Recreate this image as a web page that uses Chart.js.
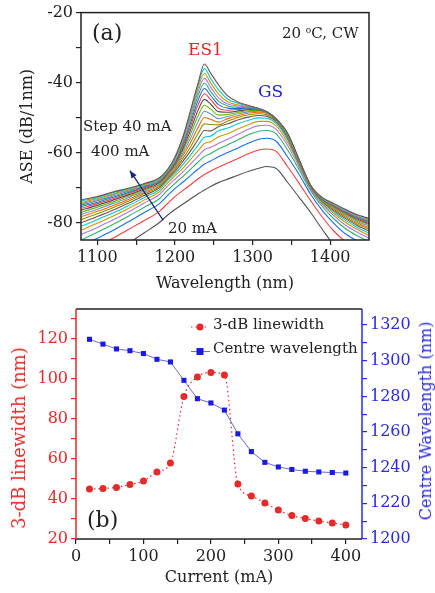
<!DOCTYPE html>
<html>
<head>
<meta charset="utf-8">
<script src="https://cdn.jsdelivr.net/npm/chart.js@4.4.0/dist/chart.umd.min.js"></script>
<style>
  html, body { margin: 0; padding: 0; background: #fff; }
  #wrap { position: relative; width: 435px; height: 593px; overflow: hidden; font-family: "DejaVu Serif", serif; color: #222; }
  canvas { position: absolute; left: 0; }
  #cA { top: 0; }
  #cB { top: 295px; }
  .note { position: absolute; white-space: nowrap; line-height: 1; }
  .note sup { font-size: 0.6em; vertical-align: 0.6em; }
  .vtitle { position: absolute; white-space: nowrap; line-height: 1; transform: translate(-50%, -50%) rotate(-90deg); }
</style>
</head>
<body>
<div id="wrap">
  <canvas id="cA" width="435" height="300"></canvas>
  <canvas id="cB" width="435" height="298"></canvas>

  <div class="note" style="left:92px;top:22px;font-size:22px">(a)</div>
  <div class="note" style="left:282px;top:26px;font-size:15px">20 <sup>o</sup>C, CW</div>
  <div class="note" style="left:188px;top:41px;font-size:17px;color:#e02828">ES1</div>
  <div class="note" style="left:258px;top:83px;font-size:17px;color:#2323d2">GS</div>
  <div class="note" style="left:83px;top:119px;font-size:15px">Step 40 mA</div>
  <div class="note" style="left:91px;top:144px;font-size:15px">400 mA</div>
  <div class="note" style="left:168px;top:221px;font-size:15px">20 mA</div>

  <div class="note" style="left:213px;top:317px;font-size:15px">3-dB linewidth</div>
  <div class="note" style="left:213px;top:341px;font-size:15px">Centre wavelength</div>
  <div class="note" style="left:87px;top:509px;font-size:22px">(b)</div>
  <div class="vtitle" style="left:19px;top:438px;font-size:18px;color:#e52a2a">3-dB linewidth (nm)</div>
  <div class="vtitle" style="left:426px;top:421px;font-size:16px;color:#2a2ae0">Centre Wavelength (nm)</div>
</div>

<script>
// ---- (a) ASE spectra, one row per drive current ----
const wavelengths = [1080, 1100, 1120, 1140, 1160, 1180, 1190, 1200, 1210, 1220, 1230, 1238, 1246, 1256,
                     1268, 1282, 1296, 1308, 1318, 1330, 1345, 1360, 1375, 1390, 1405, 1420, 1435, 1450];

const ase020 = [-93,-91,-89,-86,-83,-80,-78,-76.3,-74.8,-73.3,-71.8,-70.7,-69.7,-68.6,-67.6,-66.4,-65.3,-64.5,-64,-64.5,-68.5,-72.8,-77.2,-82,-86.5,-89.5,-91.5,-93];
const ase040 = [-89,-86.8,-84.5,-82,-79.5,-76.8,-74.7,-72.6,-70.9,-69.2,-67.5,-66.3,-65.3,-64.2,-63,-61.6,-60.2,-59.3,-59,-59.6,-64,-68.8,-73.8,-78.5,-82.5,-85.5,-87.5,-89];
const ase060 = [-86.7,-84.5,-82.3,-79.8,-77.2,-74.6,-72.4,-70.3,-68.5,-66.6,-64.7,-63.3,-62.4,-61.2,-60,-58.6,-57.2,-56.2,-55.9,-56.7,-61.2,-66.3,-72,-76.6,-80.3,-83.3,-85.3,-87];
const ase080 = [-84.9,-82.8,-80.6,-78.2,-75.7,-73.2,-70.9,-68.8,-66.9,-64.8,-62.7,-61.1,-60.3,-59,-57.8,-56.3,-54.8,-53.9,-53.7,-54.6,-59.2,-64.9,-71,-75.5,-79,-81.8,-83.8,-85.5];
const ase100 = [-83.4,-81.4,-79.3,-77,-74.5,-72,-69.7,-67.6,-65.6,-63.3,-61,-59.2,-58.5,-57.4,-56.2,-54.7,-53.2,-52.3,-52.2,-53.3,-57.9,-64.1,-70.6,-74.9,-78.1,-80.8,-82.8,-84.5];
const ase120 = [-82.1,-80.2,-78.2,-76,-73.6,-71.2,-68.8,-66.7,-64.5,-62,-59.4,-57.4,-56.9,-55.5,-54.6,-53.2,-51.9,-51.1,-51.1,-52.3,-57,-63.6,-70.3,-74.5,-77.5,-80,-82,-83.7];
const ase140 = [-81,-79.2,-77.3,-75.2,-72.9,-70.6,-68.1,-66,-63.5,-60.8,-57.8,-55.6,-55.3,-53.8,-53,-51.7,-50.7,-50.1,-50.2,-51.6,-56.3,-63.3,-70.1,-74.2,-77,-79.4,-81.4,-83];
const ase160 = [-80,-78.3,-76.5,-74.5,-72.3,-70.1,-67.6,-65.4,-62.6,-59.6,-56.2,-53.7,-53.8,-52.6,-51.8,-50.6,-49.8,-49.4,-49.6,-51.1,-55.8,-63.1,-70,-74,-76.6,-78.9,-80.9,-82.4];
const ase180 = [-79.1,-77.5,-75.8,-73.9,-71.8,-69.7,-67.2,-64.9,-61.8,-58.4,-54.5,-51.8,-52,-52.1,-51,-49.9,-49.2,-48.9,-49.1,-50.8,-55.5,-62.9,-69.9,-73.8,-76.3,-78.5,-80.5,-81.9];
const ase200 = [-78.3,-76.8,-75.2,-73.4,-71.4,-69.4,-66.9,-64.5,-61,-57.2,-52.8,-50,-50.5,-51.3,-50.3,-49.4,-48.7,-48.5,-48.8,-50.6,-55.3,-62.8,-69.8,-73.7,-76,-78.1,-80.1,-81.4];
const ase220 = [-77.6,-76.2,-74.6,-72.9,-71,-69.1,-66.6,-64.1,-60.3,-56,-51.1,-48.2,-49,-50.3,-49.7,-48.9,-48.3,-48.2,-48.6,-50.5,-55.1,-62.7,-69.8,-73.6,-75.8,-77.8,-79.7,-81];
const ase240 = [-77,-75.6,-74.1,-72.5,-70.7,-68.8,-66.4,-63.7,-59.6,-54.8,-49.4,-46.5,-47.6,-49.3,-49.1,-48.5,-48,-48,-48.5,-50.4,-55,-62.6,-69.7,-73.5,-75.6,-77.5,-79.4,-80.6];
const ase260 = [-76.4,-75.1,-73.6,-72.1,-70.4,-68.6,-66.2,-63.4,-59,-53.7,-47.8,-44.8,-46.2,-48.3,-48.5,-48.1,-47.7,-47.8,-48.4,-50.4,-54.9,-62.5,-69.7,-73.4,-75.4,-77.3,-79.1,-80.3];
const ase280 = [-75.9,-74.6,-73.2,-71.7,-70.1,-68.4,-66,-63.1,-58.4,-52.6,-46.3,-43.2,-44.9,-47.3,-47.9,-47.7,-47.5,-47.7,-48.3,-50.3,-54.8,-62.4,-69.6,-73.3,-75.3,-77.1,-78.8,-80];
const ase300 = [-75.4,-74.2,-72.8,-71.4,-69.8,-68.2,-65.8,-62.8,-57.8,-51.6,-44.9,-41.7,-43.7,-46.3,-47.3,-47.4,-47.3,-47.6,-48.3,-50.3,-54.7,-62.3,-69.6,-73.2,-75.1,-76.9,-78.6,-79.7];
const ase320 = [-75,-73.8,-72.4,-71.1,-69.6,-68,-65.6,-62.5,-57.3,-50.7,-43.6,-40.2,-42.5,-45.3,-46.7,-47.1,-47.1,-47.5,-48.3,-50.3,-54.6,-62.3,-69.5,-73.1,-75,-76.8,-78.4,-79.5];
const ase340 = [-74.6,-73.5,-72.1,-70.8,-69.4,-67.8,-65.4,-62.2,-56.8,-49.9,-42.4,-38.8,-41.3,-44.3,-46.1,-46.7,-47,-47.5,-48.3,-50.3,-54.6,-62.2,-69.5,-73.1,-74.9,-76.7,-78.2,-79.3];
const ase360 = [-74.2,-73.2,-71.8,-70.6,-69.2,-67.6,-65.3,-61.9,-56.4,-49.2,-41.4,-37.4,-40.1,-43.2,-45.5,-46.4,-46.9,-47.4,-48.3,-50.3,-54.5,-62.1,-69.5,-73,-74.8,-76.5,-78.1,-79.1];
const ase380 = [-73.8,-72.9,-71.5,-70.4,-69,-67.4,-65.1,-61.6,-56,-48.6,-40.6,-36,-38.8,-42,-44.7,-46,-46.8,-47.4,-48.3,-50.3,-54.5,-62.1,-69.4,-73,-74.7,-76.4,-77.9,-78.9];
const ase400 = [-73.5,-72.6,-71.3,-70.2,-68.9,-67.2,-65,-61.3,-55.7,-48,-40,-34.7,-37.3,-40.6,-43.8,-45.6,-46.6,-47.4,-48.3,-50.3,-54.4,-62,-69.4,-72.9,-74.6,-76.3,-77.8,-78.8];

const aseRows = [ase020, ase040, ase060, ase080, ase100, ase120, ase140, ase160, ase180, ase200,
                 ase220, ase240, ase260, ase280, ase300, ase320, ase340, ase360, ase380, ase400];

const aseXMajor = [1100, 1200, 1300, 1400];
const aseXMinor = [1150, 1250, 1350];
const aseYMajor = [-80, -60, -40, -20];
const aseYMinor = [-70, -50, -30];

// ---- (b) linewidth and centre wavelength vs current ----
const currents  = [20, 40, 60, 80, 100, 120, 140, 160, 180, 200, 220, 240, 260, 280, 300, 320, 340, 360, 380, 400];
const linewidth = [45, 45.3, 45.8, 47.3, 49, 53.5, 58, 91.3, 101, 103.3, 102, 47.5, 41.5, 38, 34.5, 31.7, 30.2, 29, 28, 27];
const centreWl  = [1312, 1309.3, 1306.6, 1305.6, 1304, 1300.8, 1299.3, 1289, 1278.7, 1276.3, 1272.3, 1259, 1249, 1243, 1240.4, 1239, 1238, 1237.6, 1237.3, 1237];

const curXMajor = [0, 100, 200, 300, 400];
const curXMinor = [50, 150, 250, 350];
const lwMajor = [20, 40, 60, 80, 100, 120];
const lwMinor = [30, 50, 70, 90, 110, 130];
const cwMajor = [1200, 1220, 1240, 1260, 1280, 1300, 1320];
const cwMinor = [1210, 1230, 1250, 1270, 1290, 1310];

const palette = ['#515151', '#F14040', '#1A6FDF', '#37AD6B', '#B177DE', '#CC9900',
                 '#00CBCC', '#7D4E4E', '#8E8E00', '#FB6501', '#6699CC', '#6FB802'];
const RED = '#e52a2a', BLUE = '#2a2ae0', INK = '#222';

Chart.defaults.font.family = '"DejaVu Serif", serif';
Chart.defaults.font.size = 16;
Chart.defaults.color = INK;

function setTicks(majors, minors) {
  return scale => {
    scale.ticks = majors.concat(minors).sort((a, b) => a - b).map(v => ({ value: v }));
  };
}
function majorLabel(majors) {
  return v => (majors.includes(v) ? String(v) : '');
}
function axis(opts) {
  return Object.assign({
    type: 'linear',
    border: { display: false },
    grid: { drawOnChartArea: false, tickLength: 5, color: INK, lineWidth: 1.2 },
  }, opts);
}

// frame + arrow for panel a
const framePluginA = {
  id: 'frameA',
  afterDraw(chart) {
    const { ctx, chartArea: a, scales } = chart;
    ctx.save();
    ctx.strokeStyle = INK;
    ctx.lineWidth = 1.5;
    ctx.strokeRect(a.left, a.top, a.right - a.left, a.bottom - a.top);
    // current arrow (20 mA -> 400 mA)
    const x1 = scales.x.getPixelForValue(1185), y1 = scales.y.getPixelForValue(-79.4);
    const x2 = scales.x.getPixelForValue(1142), y2 = scales.y.getPixelForValue(-65.2);
    ctx.strokeStyle = ctx.fillStyle = '#1b2878';
    ctx.lineWidth = 1.3;
    ctx.beginPath(); ctx.moveTo(x1, y1); ctx.lineTo(x2, y2); ctx.stroke();
    const ang = Math.atan2(y2 - y1, x2 - x1);
    ctx.beginPath();
    ctx.moveTo(x2, y2);
    ctx.lineTo(x2 - 8 * Math.cos(ang - 0.4), y2 - 8 * Math.sin(ang - 0.4));
    ctx.lineTo(x2 - 8 * Math.cos(ang + 0.4), y2 - 8 * Math.sin(ang + 0.4));
    ctx.closePath(); ctx.fill();
    ctx.restore();
  }
};

new Chart(document.getElementById('cA'), {
  type: 'line',
  data: {
    datasets: aseRows.map((row, k) => ({
      data: row.map((v, i) => ({ x: wavelengths[i], y: v })),
      borderColor: palette[k % palette.length],
      borderWidth: 1.1,
      pointRadius: 0,
      cubicInterpolationMode: 'monotone',
      order: aseRows.length - k
    }))
  },
  options: {
    responsive: false, animation: false, devicePixelRatio: 1,
    layout: { padding: { left: 0, right: 66, top: 11, bottom: 0 } },
    plugins: { legend: { display: false }, tooltip: { enabled: false } },
    scales: {
      x: axis({
        min: 1079, max: 1450,
        afterFit: s => { s.height = 60; },
        afterBuildTicks: setTicks(aseXMajor, aseXMinor),
        ticks: { padding: 3, autoSkip: false, maxRotation: 0, color: INK, callback: majorLabel(aseXMajor) },
        title: { display: true, text: 'Wavelength (nm)', color: INK, padding: { top: 0, bottom: 7 } }
      }),
      y: axis({
        min: -85, max: -20,
        afterFit: s => { s.width = 81; },
        afterBuildTicks: setTicks(aseYMajor, aseYMinor),
        ticks: { padding: 3, autoSkip: false, color: INK, callback: majorLabel(aseYMajor) },
        title: { display: true, text: 'ASE (dB/1nm)', color: INK, padding: { top: 18 } }
      })
    }
  },
  plugins: [framePluginA]
});

// frame + legend markers for panel b
const framePluginB = {
  id: 'frameB',
  afterDraw(chart) {
    const { ctx, chartArea: a } = chart;
    ctx.save();
    ctx.lineWidth = 1.5;
    ctx.strokeStyle = INK;
    ctx.beginPath();
    ctx.moveTo(a.left, a.top); ctx.lineTo(a.right, a.top);
    ctx.moveTo(a.left, a.bottom); ctx.lineTo(a.right, a.bottom);
    ctx.stroke();
    ctx.strokeStyle = RED;
    ctx.beginPath(); ctx.moveTo(a.left, a.top); ctx.lineTo(a.left, a.bottom); ctx.stroke();
    ctx.strokeStyle = BLUE;
    ctx.beginPath(); ctx.moveTo(a.right, a.top); ctx.lineTo(a.right, a.bottom); ctx.stroke();

    // legend samples
    ctx.lineWidth = 1.2;
    ctx.strokeStyle = ctx.fillStyle = RED;
    ctx.setLineDash([1.5, 3]);
    ctx.beginPath(); ctx.moveTo(191, 32); ctx.lineTo(209, 32); ctx.stroke();
    ctx.setLineDash([]);
    ctx.beginPath(); ctx.arc(200, 32, 3.5, 0, Math.PI * 2); ctx.fill();
    ctx.strokeStyle = '#6a6ad0';
    ctx.lineWidth = 1;
    ctx.beginPath(); ctx.moveTo(191, 56.5); ctx.lineTo(210, 56.5); ctx.stroke();
    ctx.fillStyle = '#1a1ae8';
    ctx.fillRect(196.5, 53, 7, 7);
    ctx.restore();
  }
};

new Chart(document.getElementById('cB'), {
  type: 'line',
  data: {
    datasets: [
      {
        label: '3-dB linewidth',
        data: currents.map((c, i) => ({ x: c, y: linewidth[i] })),
        yAxisID: 'y',
        borderColor: RED, borderWidth: 1.2, borderDash: [1.5, 3],
        pointRadius: 3.5, pointBackgroundColor: RED, pointBorderColor: RED, pointBorderWidth: 0,
        cubicInterpolationMode: 'monotone'
      },
      {
        label: 'Centre wavelength',
        data: currents.map((c, i) => ({ x: c, y: centreWl[i] })),
        yAxisID: 'y2',
        borderColor: '#6a6ad0', borderWidth: 1,
        pointStyle: 'rect', pointRadius: 3.6,
        pointBackgroundColor: '#1a1ae8', pointBorderColor: '#1a1ae8', pointBorderWidth: 0
      }
    ]
  },
  options: {
    responsive: false, animation: false, devicePixelRatio: 1,
    layout: { padding: { left: 0, right: 0, top: 14, bottom: 0 } },
    plugins: { legend: { display: false }, tooltip: { enabled: false } },
    scales: {
      x: axis({
        min: 0, max: 424,
        afterFit: s => { s.height = 54; },
        afterBuildTicks: setTicks(curXMajor, curXMinor),
        ticks: { padding: 3, autoSkip: false, maxRotation: 0, color: INK, callback: majorLabel(curXMajor) },
        title: { display: true, text: 'Current (mA)', color: INK, padding: { top: 0, bottom: 6 } }
      }),
      y: axis({
        position: 'left',
        min: 20, max: 135,
        afterFit: s => { s.width = 76; },
        afterBuildTicks: setTicks(lwMajor, lwMinor),
        grid: { drawOnChartArea: false, tickLength: 5, color: RED, lineWidth: 1.2 },
        ticks: { padding: 3, autoSkip: false, color: RED, callback: majorLabel(lwMajor) }
      }),
      y2: axis({
        position: 'right',
        min: 1200, max: 1329,
        afterFit: s => { s.width = 73; },
        afterBuildTicks: setTicks(cwMajor, cwMinor),
        grid: { drawOnChartArea: false, tickLength: 5, color: BLUE, lineWidth: 1.2 },
        ticks: { padding: 3, autoSkip: false, color: BLUE, callback: majorLabel(cwMajor) }
      })
    }
  },
  plugins: [framePluginB]
});
</script>
</body>
</html>
